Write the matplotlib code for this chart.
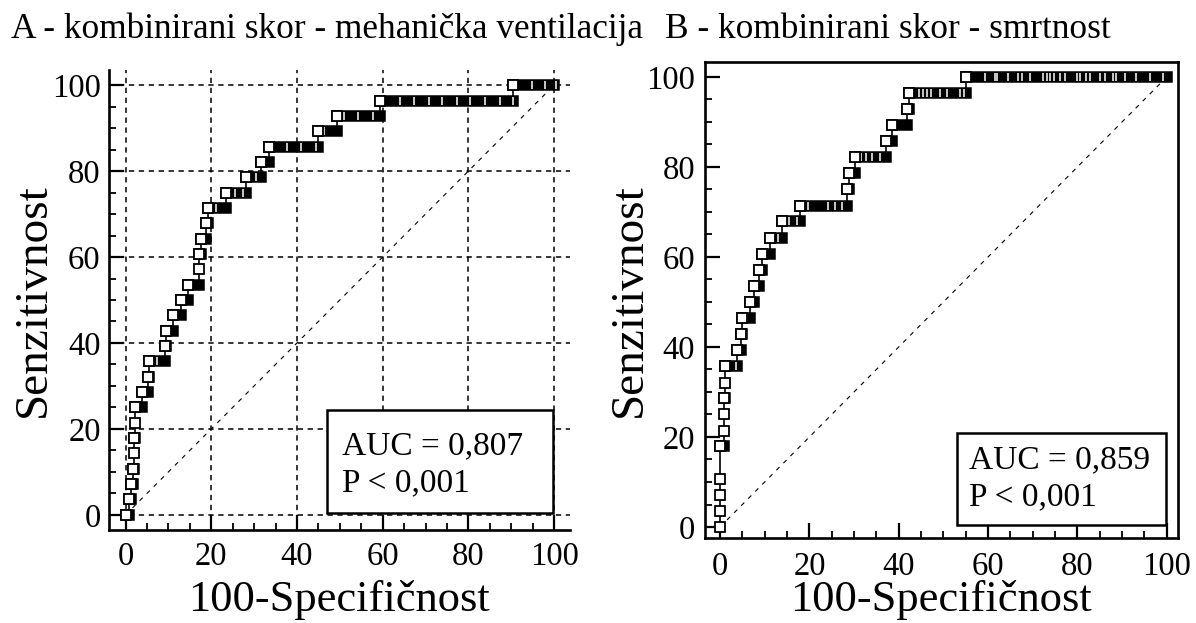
import matplotlib
matplotlib.use('Agg')
import matplotlib.pyplot as plt
from matplotlib.patches import Rectangle
from matplotlib.ticker import MultipleLocator

plt.rcParams['font.family'] = ['Liberation Serif', 'DejaVu Serif']

# ---------------- data ----------------
title_a = "A - kombinirani skor - mehanička ventilacija"
title_b = "B - kombinirani skor - smrtnost"
xlabel = "100-Specifičnost"
ylabel = "Senzitivnost"
ticks = [0, 20, 40, 60, 80, 100]

# Panel A: sensitivity levels and the 100-specificity where each level starts
a_tpr = [0.0, 3.6, 7.1, 10.7, 14.3, 17.9, 21.4, 25.0, 28.6, 32.1, 35.7, 39.3,
         42.9, 46.4, 50.0, 53.6, 57.1, 60.7, 64.3, 67.9, 71.4, 75.0, 78.6,
         82.1, 85.7, 89.3, 92.9, 96.4, 100.0]
a_fpr = [0.0, 0.7, 1.3, 1.7, 1.9, 1.9, 2.1, 2.1, 3.8, 5.3, 5.4, 9.3,
         9.5, 11.0, 12.9, 14.6, 17.1, 17.2, 17.5, 18.8, 19.3, 23.5, 28.2,
         31.7, 33.5, 45.0, 49.3, 59.4, 90.4]
a_last = 100.0
# thin white separations visible inside the dense runs of points
a_gap_x = [7.4, 21.2, 25.5, 27.3, 30.5, 37.7, 41.0, 44.5, 46.3, 51.0, 54.3, 57.8,
           64.1, 67.2, 70.7, 73.8, 77.3, 80.4, 83.9, 87.4, 90.5, 94.8, 97.9, 100.5]
a_gap_y = [35.7, 71.4, 75.0, 75.0, 78.6, 85.7, 85.7, 85.7, 89.3, 92.9, 92.9, 92.9,
           96.4, 96.4, 96.4, 96.4, 96.4, 96.4, 96.4, 96.4, 96.4, 100.0, 100.0, 100.0]
a_auc = "AUC = 0,807"
a_p = "P < 0,001"

# Panel B
b_tpr = [0.0, 3.6, 7.1, 10.7, 17.9, 21.4, 25.0, 28.6, 32.1, 35.7, 39.3, 42.9,
         46.4, 50.0, 53.6, 57.1, 60.7, 64.3, 67.9, 71.4, 75.0, 78.6, 82.1,
         85.7, 89.3, 92.9, 96.4, 100.0]
b_fpr = [0.0, 0.0, 0.0, 0.0, 0.0, 0.8, 0.9, 1.0, 1.1, 1.1, 3.8, 4.8,
         5.0, 6.6, 7.5, 8.7, 9.4, 11.1, 13.8, 18.0, 28.4, 28.9, 30.1,
         37.2, 38.6, 41.8, 42.4, 55.1]
b_last = 100.0
b_gap_x = [3.6, 6.0, 13.0, 15.5, 17.3, 19.7, 24.2, 25.7, 27.4, 31.6, 32.7, 34.1, 35.7,
           44.5, 45.4, 46.4, 47.2, 49.2, 50.9, 53.7, 54.6,
           59.3, 61.5, 62.0, 64.5, 66.7, 67.5, 69.4, 72.3, 73.1, 73.8, 74.7, 76.1,
           77.2, 79.8, 80.5, 82.0, 82.8, 85.0, 86.1, 88.0, 88.7, 90.6, 93.2, 96.2, 99.2]
b_gap_y = [35.7, 46.4, 64.3, 67.9, 67.9, 71.4, 71.4, 71.4, 71.4, 82.1, 82.1, 82.1, 82.1,
           96.4, 96.4, 96.4, 96.4, 96.4, 96.4, 96.4, 96.4,
           100.0, 100.0, 100.0, 100.0, 100.0, 100.0, 100.0, 100.0, 100.0, 100.0, 100.0, 100.0,
           100.0, 100.0, 100.0, 100.0, 100.0, 100.0, 100.0, 100.0, 100.0, 100.0, 100.0, 100.0, 100.0]
b_auc = "AUC = 0,859"
b_p = "P < 0,001"

# ---------------- drawing ----------------
W, H = 1196, 623
fig = plt.figure(figsize=(W / 100, H / 100), dpi=100)

TICK_FS = 23.5
XLABEL_FS = 32
YLABEL_FS = 34
TITLE_FS = 25.4
BOX_FS = 24


def draw_roc(ax, fpr, tpr, last, gx, gy):
    ends = fpr[1:] + [last]
    xs, ys = [], []
    for c, e, y in zip(fpr, ends, tpr):
        xs += [c, e]
        ys += [y, y]
    ax.plot(xs, ys, color='black', lw=1.2, zorder=3)
    for c, e, y in zip(fpr, ends, tpr):
        if e > c:
            ax.plot([c, e], [y, y], color='black', lw=8.3,
                    solid_capstyle='projecting', zorder=4)
    ax.plot(gx, gy, ls='none', marker='|', ms=5.6, mew=1.1,
            color='white', zorder=5)
    ax.plot(fpr[::-1], tpr[::-1], ls='none', marker='s', ms=7.2,
            mfc='white', mec='black', mew=1.3, zorder=6)
    # reference diagonal
    ax.plot([0, 100], [0, 100], color='black', lw=0.8,
            ls=(0, (4, 5)), zorder=2)


def style_axes(ax, xpad, ypad):
    ax.xaxis.set_major_locator(MultipleLocator(20))
    ax.yaxis.set_major_locator(MultipleLocator(20))
    ax.xaxis.set_minor_locator(MultipleLocator(5))
    ax.yaxis.set_minor_locator(MultipleLocator(5))
    ax.tick_params(which='both', direction='in', top=False, right=False,
                   colors='black')
    ax.tick_params(which='major', length=10.5, width=1.6, labelsize=TICK_FS)
    ax.tick_params(which='minor', length=5, width=1.3)
    ax.tick_params(axis='x', which='major', pad=xpad)
    ax.tick_params(axis='y', which='major', pad=ypad)
    for s in ax.spines.values():
        s.set_linewidth(1.9)
        s.set_color('black')


# Panel A
axA = fig.add_axes([109 / W, (H - 530) / H, 461 / W, 460 / H])
axA.set_xlim(-3.85, 103.7)
axA.set_ylim(-3.5, 103.5)
style_axes(axA, 8, 6)
axA.spines['top'].set_visible(False)
axA.spines['right'].set_visible(False)
axA.grid(True, which='major', color='black', lw=1.1, ls=(0, (3.5, 3)))
draw_roc(axA, a_fpr, a_tpr, a_last, a_gap_x, a_gap_y)
axA.add_patch(Rectangle((47.0, 0.5), 52.8, 23.9, fc='white', ec='black',
                        lw=1.8, zorder=7))
axA.text(50.5, 14.0, a_auc, fontsize=BOX_FS, va='baseline', ha='left', zorder=8)
axA.text(50.5, 5.6, a_p, fontsize=BOX_FS, va='baseline', ha='left', zorder=8)

# Panel B
axB = fig.add_axes([705 / W, (H - 538) / H, 473 / W, 476 / H])
axB.set_xlim(-3.36, 102.5)
axB.set_ylim(-2.44, 103.3)
style_axes(axB, 10, 7)
draw_roc(axB, b_fpr, b_tpr, b_last, b_gap_x, b_gap_y)
axB.add_patch(Rectangle((53.0, 0.45), 46.9, 20.35, fc='white', ec='black',
                        lw=1.8, zorder=7))
axB.text(55.8, 13.0, b_auc, fontsize=BOX_FS, va='baseline', ha='left', zorder=8)
axB.text(55.8, 4.9, b_p, fontsize=BOX_FS, va='baseline', ha='left', zorder=8)

for ax in (axA, axB):
    ax.set_xticks(ticks)
    ax.set_yticks(ticks)

# Titles and axis labels
fig.text(11 / W, (H - 38) / H, title_a, fontsize=TITLE_FS, ha='left', va='baseline')
fig.text(665 / W, (H - 38) / H, title_b, fontsize=TITLE_FS, ha='left', va='baseline')
fig.text(339.5 / W, (H - 611) / H, xlabel, fontsize=XLABEL_FS, ha='center', va='baseline')
fig.text(941.5 / W, (H - 611) / H, xlabel, fontsize=XLABEL_FS, ha='center', va='baseline')
fig.text(45 / W, (H - 300) / H, ylabel, fontsize=YLABEL_FS, rotation=90,
         rotation_mode='anchor', ha='center', va='baseline')
fig.text(641 / W, (H - 300) / H, ylabel, fontsize=YLABEL_FS, rotation=90,
         rotation_mode='anchor', ha='center', va='baseline')

fig.savefig('out.png', dpi=100)
